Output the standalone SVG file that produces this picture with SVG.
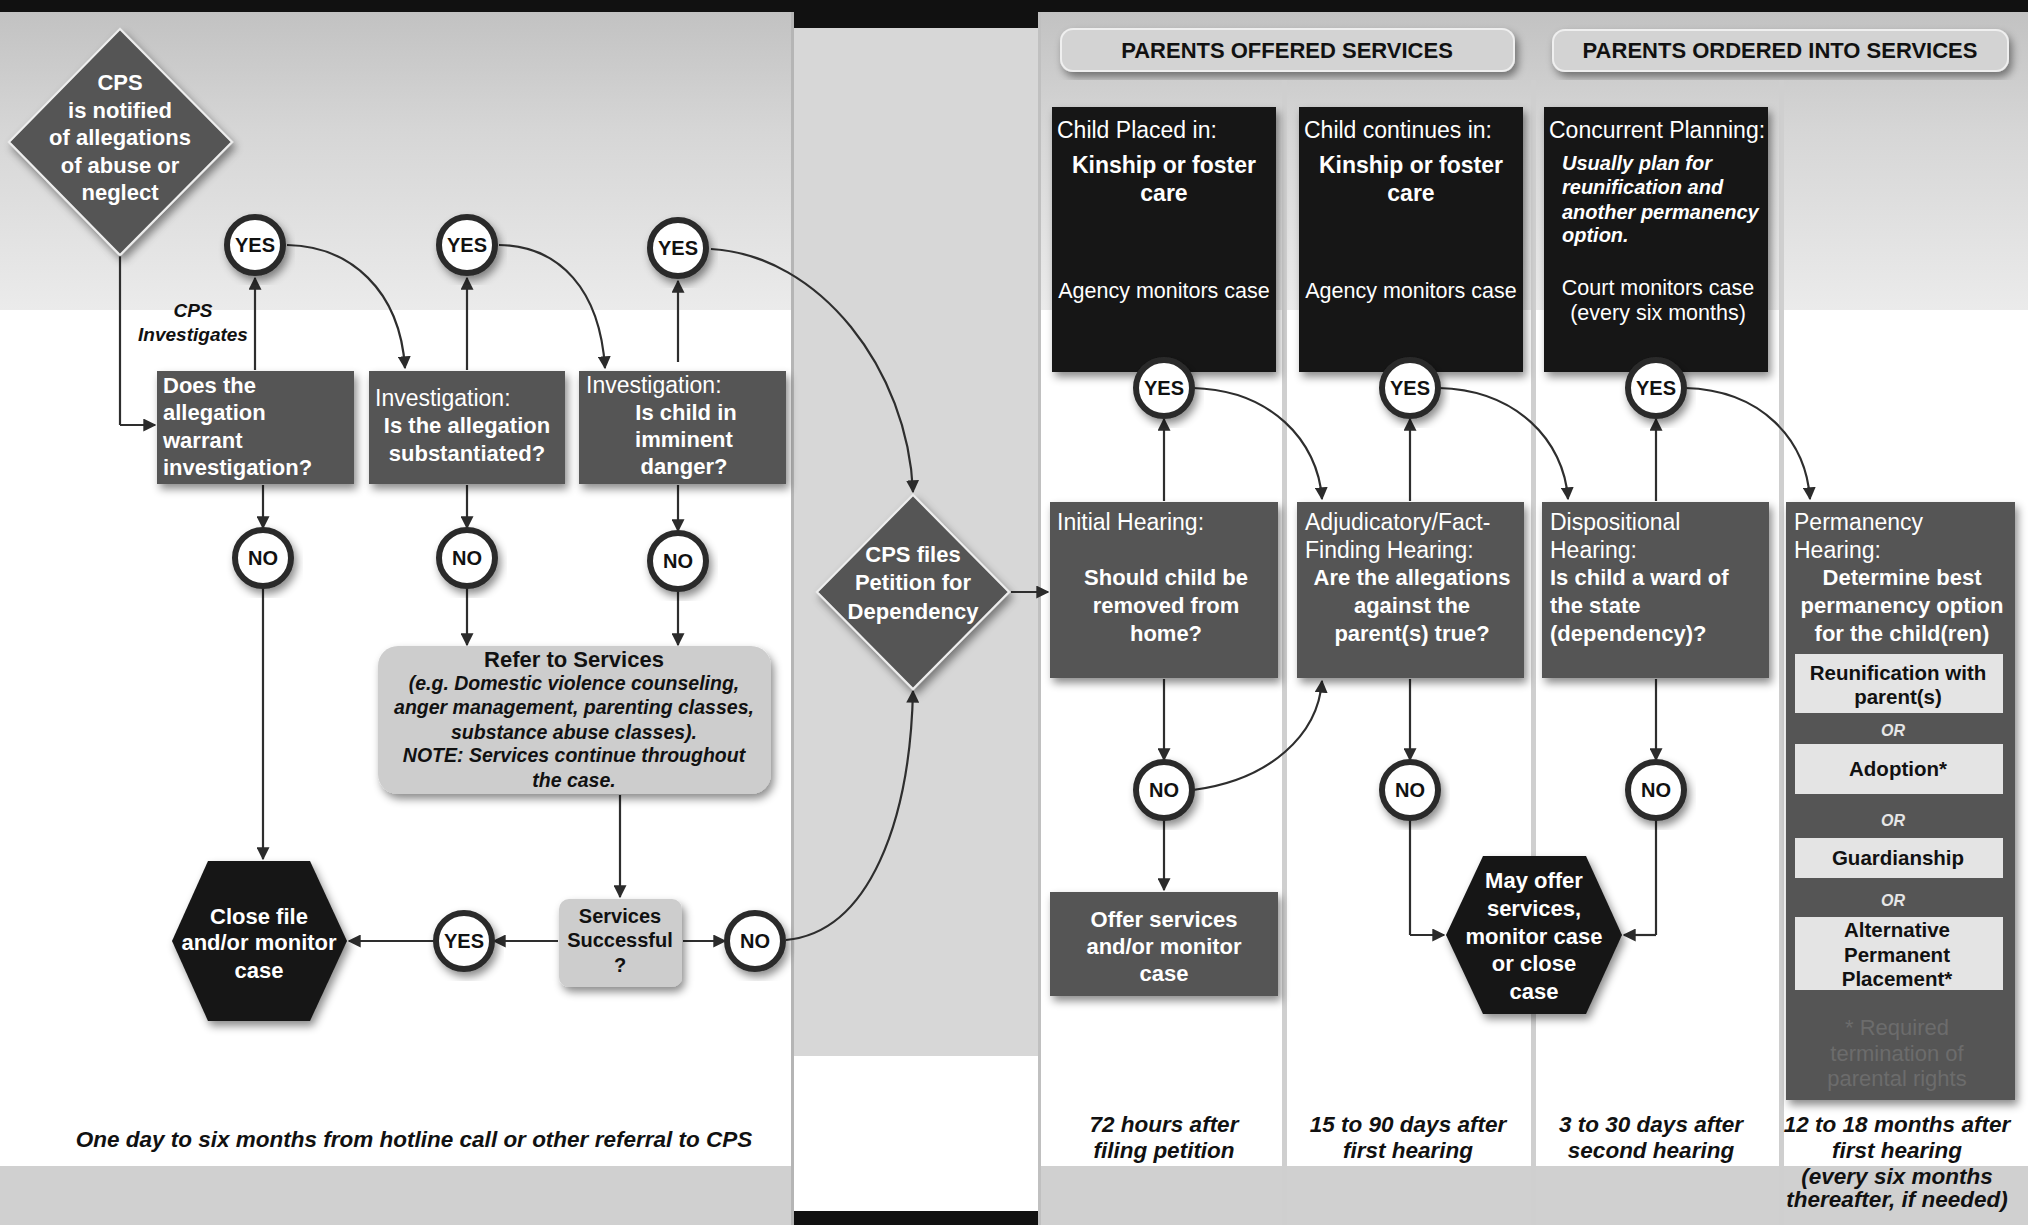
<svg xmlns="http://www.w3.org/2000/svg" width="2028" height="1225" viewBox="0 0 2028 1225">
<defs>
<linearGradient id="topg" x1="0" y1="0" x2="0" y2="1">
<stop offset="0" stop-color="#c2c2c2"/>
<stop offset="0.4" stop-color="#d6d6d6"/>
<stop offset="1" stop-color="#ebebeb"/>
</linearGradient>
<filter id="sh" x="-20%" y="-20%" width="140%" height="140%">
<feDropShadow dx="3" dy="5" stdDeviation="4" flood-color="#000" flood-opacity="0.45"/>
</filter>
<marker id="ah" viewBox="0 0 10 10" refX="9" refY="5" markerWidth="13" markerHeight="13" markerUnits="userSpaceOnUse" orient="auto">
<path d="M0,0 L10,5 L0,10 z" fill="#2b2b2b"/>
</marker>
<style>
text{font-family:"Liberation Sans",Arial,sans-serif;}
.dk{fill:#555555;filter:url(#sh);}
.bk{fill:#151515;filter:url(#sh);}
.lt{fill:#cdcdcd;filter:url(#sh);}
.sub{fill:#e4e4e4;}
.circ{fill:#fff;stroke:#2a2a2a;stroke-width:6;filter:url(#sh);}
.ct{font-size:20px;font-weight:bold;fill:#111;text-anchor:middle;}
.w{fill:#fff;}
.q{font-size:22px;font-weight:bold;}
.h{font-size:23px;}
.mid{text-anchor:middle;}
.con{fill:none;stroke:#2e2e2e;stroke-width:2.2;marker-end:url(#ah);}
.ln{fill:none;stroke:#2e2e2e;stroke-width:2.2;}
.it{font-style:italic;font-weight:bold;}
.tm{font-size:22.5px;font-style:italic;font-weight:bold;fill:#111;text-anchor:middle;}
.sep{fill:#cfcfcf;}
.st{font-size:20.5px;font-weight:bold;fill:#111;text-anchor:middle;}
</style>
</defs>

<g id="background">
<rect x="0" y="0" width="2028" height="12" fill="#111"/>
<rect x="0" y="12" width="793" height="298" fill="url(#topg)"/>
<rect x="0" y="310" width="793" height="856" fill="#fff"/>
<rect x="0" y="1166" width="793" height="59" fill="#d0d0d0"/>
<rect x="793" y="0" width="247" height="28" fill="#111"/>
<rect x="793" y="28" width="247" height="1028" fill="#d7d7d7"/>
<rect x="793" y="1056" width="247" height="155" fill="#fff"/>
<rect x="793" y="1211" width="247" height="14" fill="#111"/>
<rect x="1040" y="12" width="988" height="298" fill="url(#topg)"/>
<rect x="1040" y="310" width="988" height="856" fill="#fff"/>
<rect x="1040" y="1166" width="988" height="59" fill="#d0d0d0"/>
<rect x="791" y="12" width="3" height="1213" fill="#b5b5b5"/>
<rect x="1038" y="12" width="3" height="1213" fill="#c0c0c0"/>
<rect class="sep" x="1282" y="80" width="5" height="1145"/>
<rect class="sep" x="1531" y="80" width="5" height="1145"/>
<rect class="sep" x="1779" y="80" width="5" height="1145"/>
</g>

<g id="header-offered">
<rect x="1061" y="29" width="453" height="42" rx="12" fill="#d3d3d3" stroke="#efefef" stroke-width="2" filter="url(#sh)"/>
<text x="1287" y="58" class="mid" font-size="22" font-weight="bold" fill="#111">PARENTS OFFERED SERVICES</text>
</g>
<g id="header-ordered">
<rect x="1553" y="30" width="455" height="41" rx="12" fill="#d3d3d3" stroke="#efefef" stroke-width="2" filter="url(#sh)"/>
<text x="1780" y="58" class="mid" font-size="22" font-weight="bold" fill="#111">PARENTS ORDERED INTO SERVICES</text>
</g>

<g id="connectors">
<path class="ln" d="M120,255 V425"/>
<path class="con" d="M120,425 H155"/>
<path class="con" d="M255,370 V278"/>
<path class="con" d="M467,370 V278"/>
<path class="con" d="M678,362 V281"/>
<path class="con" d="M287,245 C350,246 400,290 405,368"/>
<path class="con" d="M499,245 C560,246 600,290 605,368"/>
<path class="con" d="M711,249 C820,255 908,370 913,492"/>
<path class="con" d="M263,485 V528"/>
<path class="con" d="M467,485 V528"/>
<path class="con" d="M678,485 V531"/>
<path class="con" d="M263,588 V859"/>
<path class="con" d="M467,588 V645"/>
<path class="con" d="M678,591 V645"/>
<path class="con" d="M620,795 V897"/>
<path class="con" d="M558,941 H494"/>
<path class="con" d="M434,941 H349"/>
<path class="con" d="M683,941 H725"/>
<path class="con" d="M786,940 C870,932 910,820 913,691"/>
<path class="con" d="M1011,592 H1048"/>
<path class="con" d="M1164,501 V419"/>
<path class="con" d="M1410,501 V419"/>
<path class="con" d="M1656,501 V419"/>
<path class="con" d="M1193,388 C1270,390 1318,440 1322,499"/>
<path class="con" d="M1439,388 C1516,390 1564,440 1568,499"/>
<path class="con" d="M1685,388 C1762,390 1806,440 1810,499"/>
<path class="con" d="M1164,679 V760"/>
<path class="con" d="M1410,679 V760"/>
<path class="con" d="M1656,679 V760"/>
<path class="con" d="M1164,820 V890"/>
<path class="con" d="M1193,790 C1270,780 1318,735 1322,681"/>
<path class="ln" d="M1410,820 V935"/>
<path class="con" d="M1410,935 H1444"/>
<path class="ln" d="M1656,820 V935"/>
<path class="con" d="M1656,935 H1624"/>
</g>

<g id="cps-notified">
<polygon class="dk" points="120,29 232,142 120,255 9,142" stroke="#eee" stroke-width="2"/>
<text class="w q mid" x="120" y="90">CPS</text>
<text class="w q mid" x="120" y="118">is notified</text>
<text class="w q mid" x="120" y="145">of allegations</text>
<text class="w q mid" x="120" y="173">of abuse or</text>
<text class="w q mid" x="120" y="200">neglect</text>
</g>

<g id="cps-investigates-label">
<text x="193" y="317" class="it mid" font-size="19" fill="#111">CPS</text>
<text x="193" y="341" class="it mid" font-size="19" fill="#111">Investigates</text>
</g>

<g id="yes-l1"><circle class="circ" cx="255" cy="245" r="28"/><text class="ct" x="255" y="252">YES</text></g>
<g id="yes-l2"><circle class="circ" cx="467" cy="245" r="28"/><text class="ct" x="467" y="252">YES</text></g>
<g id="yes-l3"><circle class="circ" cx="678" cy="248" r="28"/><text class="ct" x="678" y="255">YES</text></g>

<g id="box-warrant">
<rect class="dk" x="157" y="371" width="197" height="113"/>
<text class="w q" x="163" y="393">Does the</text>
<text class="w q" x="163" y="420">allegation</text>
<text class="w q" x="163" y="448">warrant</text>
<text class="w q" x="163" y="475">investigation?</text>
</g>
<g id="box-substantiated">
<rect class="dk" x="369" y="371" width="196" height="113"/>
<text class="w h" x="375" y="406">Investigation:</text>
<text class="w q mid" x="467" y="433">Is the allegation</text>
<text class="w q mid" x="467" y="461">substantiated?</text>
</g>
<g id="box-danger">
<rect class="dk" x="579" y="371" width="207" height="113"/>
<text class="w h" x="586" y="393">Investigation:</text>
<text class="w q mid" x="686" y="420">Is child in</text>
<text class="w q mid" x="684" y="447">imminent</text>
<text class="w q mid" x="684" y="474">danger?</text>
</g>

<g id="no-l1"><circle class="circ" cx="263" cy="558" r="28"/><text class="ct" x="263" y="565">NO</text></g>
<g id="no-l2"><circle class="circ" cx="467" cy="558" r="28"/><text class="ct" x="467" y="565">NO</text></g>
<g id="no-l3"><circle class="circ" cx="678" cy="561" r="28"/><text class="ct" x="678" y="568">NO</text></g>

<g id="refer-services">
<rect class="lt" x="378" y="646" width="393" height="148" rx="20"/>
<text x="574" y="667" class="mid" font-size="22" font-weight="bold" fill="#111">Refer to Services</text>
<text x="574" y="690" class="it mid" font-size="19.5" fill="#111">(e.g. Domestic violence counseling,</text>
<text x="574" y="714" class="it mid" font-size="19.5" fill="#111">anger management, parenting classes,</text>
<text x="574" y="739" class="it mid" font-size="19.5" fill="#111">substance abuse classes).</text>
<text x="574" y="762" class="it mid" font-size="19.5" fill="#111">NOTE: Services continue throughout</text>
<text x="574" y="787" class="it mid" font-size="19.5" fill="#111">the case.</text>
</g>

<g id="services-successful">
<rect class="lt" x="559" y="899" width="123" height="88" rx="10"/>
<text x="620" y="923" class="mid" font-size="20" font-weight="bold" fill="#111">Services</text>
<text x="620" y="947" class="mid" font-size="20" font-weight="bold" fill="#111">Successful</text>
<text x="620" y="972" class="mid" font-size="20" font-weight="bold" fill="#111">?</text>
</g>

<g id="yes-l4"><circle class="circ" cx="464" cy="941" r="28"/><text class="ct" x="464" y="948">YES</text></g>
<g id="no-l4"><circle class="circ" cx="755" cy="941" r="28"/><text class="ct" x="755" y="948">NO</text></g>

<g id="close-file">
<polygon class="bk" points="172,941 208,861 310,861 347,941 310,1021 208,1021"/>
<text class="w q mid" x="259" y="924">Close file</text>
<text class="w q mid" x="259" y="950">and/or monitor</text>
<text class="w q mid" x="259" y="978">case</text>
</g>

<g id="timeframe-left">
<text x="414" y="1147" class="tm" font-size="23.5">One day to six months from hotline call or other referral to CPS</text>
</g>

<g id="cps-files-petition">
<polygon class="dk" points="913,495 1009,592 913,689 817,592" stroke="#eee" stroke-width="2"/>
<text class="w q mid" x="913" y="562">CPS files</text>
<text class="w q mid" x="913" y="590">Petition for</text>
<text class="w q mid" x="913" y="619">Dependency</text>
</g>

<g id="placed-in">
<rect class="bk" x="1052" y="107" width="224" height="265"/>
<text class="w h" x="1057" y="138">Child Placed in:</text>
<text class="w mid" x="1164" y="173" font-size="23" font-weight="bold">Kinship or foster</text>
<text class="w mid" x="1164" y="201" font-size="23" font-weight="bold">care</text>
<text class="w mid" x="1164" y="298" font-size="21.5">Agency monitors case</text>
</g>
<g id="continues-in">
<rect class="bk" x="1299" y="107" width="224" height="265"/>
<text class="w h" x="1304" y="138">Child continues in:</text>
<text class="w mid" x="1411" y="173" font-size="23" font-weight="bold">Kinship or foster</text>
<text class="w mid" x="1411" y="201" font-size="23" font-weight="bold">care</text>
<text class="w mid" x="1411" y="298" font-size="21.5">Agency monitors case</text>
</g>
<g id="concurrent-planning">
<rect class="bk" x="1544" y="107" width="224" height="265"/>
<text class="w h" x="1549" y="138">Concurrent Planning:</text>
<text class="w it" x="1562" y="170" font-size="20">Usually plan for</text>
<text class="w it" x="1562" y="194" font-size="20">reunification and</text>
<text class="w it" x="1562" y="219" font-size="20">another permanency</text>
<text class="w it" x="1562" y="242" font-size="20">option.</text>
<text class="w mid" x="1658" y="295" font-size="21.5">Court monitors case</text>
<text class="w mid" x="1658" y="320" font-size="21.5">(every six months)</text>
</g>

<g id="yes-r1"><circle class="circ" cx="1164" cy="388" r="28"/><text class="ct" x="1164" y="395">YES</text></g>
<g id="yes-r2"><circle class="circ" cx="1410" cy="388" r="28"/><text class="ct" x="1410" y="395">YES</text></g>
<g id="yes-r3"><circle class="circ" cx="1656" cy="388" r="28"/><text class="ct" x="1656" y="395">YES</text></g>

<g id="initial-hearing">
<rect class="dk" x="1050" y="502" width="228" height="176"/>
<text class="w h" x="1057" y="530">Initial Hearing:</text>
<text class="w q mid" x="1166" y="585">Should child be</text>
<text class="w q mid" x="1166" y="613">removed from</text>
<text class="w q mid" x="1166" y="641">home?</text>
</g>
<g id="adjudicatory-hearing">
<rect class="dk" x="1297" y="502" width="227" height="176"/>
<text class="w h" x="1305" y="530" font-size="24">Adjudicatory/Fact-</text>
<text class="w h" x="1305" y="558" font-size="24">Finding Hearing:</text>
<text class="w q mid" x="1412" y="585">Are the allegations</text>
<text class="w q mid" x="1412" y="613">against the</text>
<text class="w q mid" x="1412" y="641">parent(s) true?</text>
</g>
<g id="dispositional-hearing">
<rect class="dk" x="1542" y="502" width="227" height="176"/>
<text class="w h" x="1550" y="530">Dispositional</text>
<text class="w h" x="1550" y="558">Hearing:</text>
<text class="w q" x="1550" y="585">Is child a ward of</text>
<text class="w q" x="1550" y="613">the state</text>
<text class="w q" x="1550" y="641">(dependency)?</text>
</g>
<g id="permanency-hearing">
<rect class="dk" x="1786" y="502" width="229" height="598"/>
<text class="w h" x="1794" y="530">Permanency</text>
<text class="w h" x="1794" y="558">Hearing:</text>
<text class="w q mid" x="1902" y="585">Determine best</text>
<text class="w q mid" x="1902" y="613">permanency option</text>
<text class="w q mid" x="1902" y="641">for the child(ren)</text>
<rect class="sub" x="1795" y="654" width="208" height="59"/>
<text x="1898" y="680" class="st">Reunification with</text>
<text x="1898" y="704" class="st">parent(s)</text>
<text x="1893" y="736" class="it mid" font-size="16" fill="#e6e6e6">OR</text>
<rect class="sub" x="1795" y="744" width="208" height="50"/>
<text x="1898" y="776" class="st">Adoption*</text>
<text x="1893" y="826" class="it mid" font-size="16" fill="#e6e6e6">OR</text>
<rect class="sub" x="1795" y="838" width="208" height="40"/>
<text x="1898" y="865" class="st">Guardianship</text>
<text x="1893" y="906" class="it mid" font-size="16" fill="#e6e6e6">OR</text>
<rect class="sub" x="1795" y="917" width="208" height="73"/>
<text x="1897" y="937" class="st">Alternative</text>
<text x="1897" y="962" class="st">Permanent</text>
<text x="1897" y="986" class="st">Placement*</text>
<text x="1897" y="1035" class="mid" font-size="22" fill="#6c6c6c">* Required</text>
<text x="1897" y="1061" class="mid" font-size="22" fill="#6c6c6c">termination of</text>
<text x="1897" y="1086" class="mid" font-size="22" fill="#6c6c6c">parental rights</text>
</g>

<g id="no-r1"><circle class="circ" cx="1164" cy="790" r="28"/><text class="ct" x="1164" y="797">NO</text></g>
<g id="no-r2"><circle class="circ" cx="1410" cy="790" r="28"/><text class="ct" x="1410" y="797">NO</text></g>
<g id="no-r3"><circle class="circ" cx="1656" cy="790" r="28"/><text class="ct" x="1656" y="797">NO</text></g>

<g id="offer-services">
<rect class="dk" x="1050" y="892" width="228" height="104"/>
<text class="w q mid" x="1164" y="927">Offer services</text>
<text class="w q mid" x="1164" y="954">and/or monitor</text>
<text class="w q mid" x="1164" y="981">case</text>
</g>

<g id="may-offer">
<polygon class="bk" points="1446,935 1483,856 1586,856 1622,935 1586,1014 1483,1014"/>
<text class="w q mid" x="1534" y="888">May offer</text>
<text class="w q mid" x="1534" y="916">services,</text>
<text class="w q mid" x="1534" y="944">monitor case</text>
<text class="w q mid" x="1534" y="971">or close</text>
<text class="w q mid" x="1534" y="999">case</text>
</g>

<g id="timeframes-right">
<text class="tm" x="1164" y="1132">72 hours after</text>
<text class="tm" x="1164" y="1158">filing petition</text>
<text class="tm" x="1408" y="1132">15 to 90 days after</text>
<text class="tm" x="1408" y="1158">first hearing</text>
<text class="tm" x="1651" y="1132">3 to 30 days after</text>
<text class="tm" x="1651" y="1158">second hearing</text>
<text class="tm" x="1897" y="1132">12 to 18 months after</text>
<text class="tm" x="1897" y="1158">first hearing</text>
<text class="tm" x="1897" y="1184" font-size="18">(every six months</text>
<text class="tm" x="1897" y="1207" font-size="18">thereafter, if needed)</text>
</g>
</svg>
